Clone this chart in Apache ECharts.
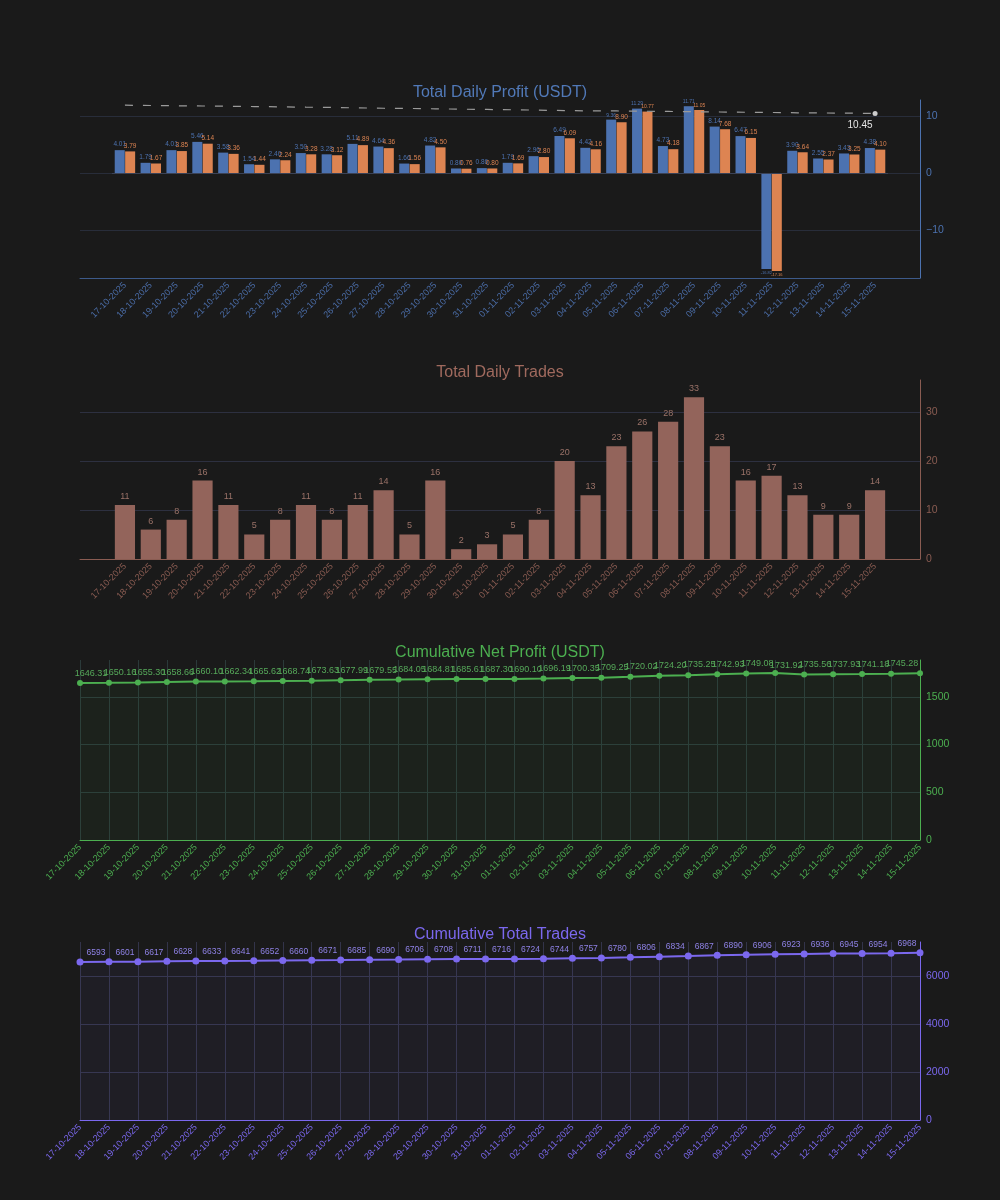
<!DOCTYPE html>
<html><head><meta charset="utf-8">
<script src="https://cdn.jsdelivr.net/npm/echarts@6/dist/echarts.min.js"></script>
<style>html,body{margin:0;padding:0;background:#1a1a1a}#c{width:1000px;height:1200px}</style>
</head><body><div id="c"></div>
<script>
const dates = ['17-10-2025','18-10-2025','19-10-2025','20-10-2025','21-10-2025','22-10-2025','23-10-2025','24-10-2025','25-10-2025','26-10-2025','27-10-2025','28-10-2025','29-10-2025','30-10-2025','31-10-2025','01-11-2025','02-11-2025','03-11-2025','04-11-2025','05-11-2025','06-11-2025','07-11-2025','08-11-2025','09-11-2025','10-11-2025','11-11-2025','12-11-2025','13-11-2025','14-11-2025','15-11-2025'];
const grossProfit = [4.01,1.79,4.01,5.46,3.58,1.54,2.40,3.50,3.28,5.11,4.64,1.66,4.82,0.80,0.86,1.79,2.96,6.49,4.42,9.36,11.29,4.73,11.71,8.14,6.47,-16.82,3.90,2.55,3.43,4.38];
const netProfit = [3.79,1.67,3.85,5.14,3.36,1.44,2.24,3.28,3.12,4.89,4.36,1.56,4.50,0.76,0.80,1.69,2.80,6.09,4.16,8.90,10.77,4.18,11.05,7.68,6.15,-17.16,3.64,2.37,3.25,4.10];
const trendLine = [11.89,11.84,11.79,11.75,11.70,11.65,11.60,11.54,11.49,11.42,11.35,11.32,11.26,11.19,11.14,11.09,11.02,10.95,10.89,10.88,10.84,10.79,10.74,10.70,10.65,10.61,10.56,10.53,10.49,10.45];
const dailyTrades = [11,6,8,16,11,5,8,11,8,11,14,5,16,2,3,5,8,20,13,23,26,28,33,23,16,17,13,9,9,14];
const cumProfit = [1644.64,1646.31,1650.16,1655.30,1658.66,1660.10,1662.34,1665.62,1668.74,1673.63,1677.99,1679.55,1684.05,1684.81,1685.61,1687.30,1690.10,1696.19,1700.35,1709.25,1720.02,1724.20,1735.25,1742.93,1749.08,1731.92,1735.56,1737.93,1741.18,1745.28];
const cumTrades = [6587,6593,6601,6617,6628,6633,6641,6652,6660,6671,6685,6690,6706,6708,6711,6716,6724,6744,6757,6780,6806,6834,6867,6890,6906,6923,6936,6945,6954,6968];
const titles = ['Total Daily Profit (USDT)','Total Daily Trades','Cumulative Net Profit (USDT)','Cumulative Total Trades'];

const FONT = "'Liberation Sans', Arial, sans-serif";
const BLUE = '#4c72b0', ORANGE = '#dd8452', BROWN = '#93645b', GREEN = '#4caf50', PURPLE = '#7b68ee';
const minus = v => String(v).replace('-', '\u2212');

function barData(values, color) {
  return values.map(v => ({
    value: v,
    label: { position: v < 0 ? 'bottom' : 'top', fontSize: v < 0 ? 4 : (v > 9 ? 5 : 6.5), color: color }
  }));
}
function hideFirstLabel(values) {
  return values.map((v, i) => i === 0 ? { value: v, label: { show: false } } : v);
}
const trendData = trendLine.map((v, i) => i === trendLine.length - 1
  ? { value: v, symbol: 'circle', symbolSize: 5, itemStyle: { color: '#cccccc' },
      label: { show: true, position: 'bottom', offset: [-15, -1], color: '#e6e6e6', fontSize: 10, fontFamily: FONT, formatter: p => p.value.toFixed(2) } }
  : { value: v });

const tops = [100, 380, 660, 942];
const H = 178;

function frameX(grid, color) {
  return { gridIndex: grid, type: 'value', min: 0, max: 1, show: true,
    axisLine: { show: true, onZero: false, lineStyle: { color: color, width: 1 } },
    axisTick: { show: false }, axisLabel: { show: false }, splitLine: { show: false } };
}
function catX(grid, color, gap) {
  return { gridIndex: grid, type: 'category', data: dates, boundaryGap: gap,
    axisLine: { show: !gap, onZero: false, lineStyle: { color: color } },
    axisTick: { show: false },
    axisLabel: { interval: 0, rotate: 45, fontSize: 9, color: color, fontFamily: FONT, margin: 6 },
    splitLine: { show: !gap, lineStyle: { color: gap ? '#2d3040' : (color === GREEN ? '#2b3a3a' : '#33344a'), width: 1 } } };
}
function valY(grid, color, min, max, split, gridColor, show) {
  return { gridIndex: grid, type: 'value', position: 'right', min: min, max: max, splitNumber: split, show: show,
    axisLine: { show: true, onZero: false, lineStyle: { color: color } },
    axisTick: { show: false },
    axisLabel: { color: color, fontSize: 10.5, fontFamily: FONT, margin: 6, showMinLabel: min === 0, showMaxLabel: false, formatter: minus },
    splitLine: { show: true, showMaxLine: false, showMinLine: min === 0, lineStyle: { color: gridColor, width: 1 } } };
}

const option = {
  backgroundColor: '#1a1a1a',
  animation: false,
  textStyle: { fontFamily: FONT },
  title: titles.map((t, i) => ({ text: t, left: 'center', top: tops[i] - 20,
    textStyle: { fontSize: 16, fontWeight: 'normal', fontFamily: FONT, color: [ '#5179b8', '#a06a5e', GREEN, PURPLE ][i] } })),
  grid: [
    { left: 80, right: 80, top: tops[0], height: H },
    { left: 112, right: 112, top: tops[0], height: H },
    { left: 80, right: 80, top: tops[1], height: H + 1 },
    { left: 112, right: 112, top: tops[1], height: H + 1 },
    { left: 80, right: 80, top: tops[2], height: H + 2 },
    { left: 80, right: 80, top: tops[3], height: H }
  ],
  xAxis: [
    frameX(0, '#3d5a8a'),
    catX(1, '#4a6ca6', true),
    frameX(2, '#8a5c52'),
    catX(3, '#8a5c52', true),
    catX(4, GREEN, false),
    catX(5, PURPLE, false)
  ],
  yAxis: [
    valY(0, '#4c72b0', -18.4, 12.8, 3, '#282d3a', true),
    valY(1, '#4c72b0', -18.4, 12.8, 3, '#282d3a', false),
    valY(2, '#8a5c52', 0, 36.5, 4, '#2d3040', true),
    valY(3, '#8a5c52', 0, 36.5, 4, '#2d3040', false),
    valY(4, GREEN, 0, 1885, 4, '#2b3a3a', true),
    valY(5, PURPLE, 0, 7420, 4, '#33344a', true)
  ],
  series: [
    { type: 'bar', name: 'Gross', xAxisIndex: 1, yAxisIndex: 1, data: barData(grossProfit, BLUE),
      itemStyle: { color: BLUE }, barCategoryGap: '21%', barGap: '4%',
      label: { show: true, distance: 2, fontFamily: FONT, formatter: p => p.value.toFixed(2) },
      markLine: { silent: true, symbol: 'none', label: { show: false }, lineStyle: { color: '#3a4256', type: 'solid', width: 1 }, data: [{ yAxis: 0 }] } },
    { type: 'bar', name: 'Net', xAxisIndex: 1, yAxisIndex: 1, data: barData(netProfit, ORANGE),
      itemStyle: { color: ORANGE }, barCategoryGap: '21%', barGap: '4%',
      label: { show: true, distance: 2, fontFamily: FONT, formatter: p => p.value.toFixed(2) } },
    { type: 'line', name: 'Trend', xAxisIndex: 1, yAxisIndex: 1, data: trendData, symbol: 'none', showSymbol: true,
      lineStyle: { color: '#9a9a9a', width: 1.2, type: [8, 10] }, z: 5 },
    { type: 'bar', name: 'Trades', xAxisIndex: 3, yAxisIndex: 3, data: dailyTrades,
      itemStyle: { color: BROWN }, barCategoryGap: '22%',
      label: { show: true, position: 'top', distance: 4, fontSize: 9, color: '#9a7268', fontFamily: FONT } },
    { type: 'line', name: 'CumProfit', xAxisIndex: 4, yAxisIndex: 4, data: hideFirstLabel(cumProfit),
      symbol: 'circle', symbolSize: 6, itemStyle: { color: GREEN }, lineStyle: { color: GREEN, width: 2 },
      areaStyle: { color: 'rgba(76,175,80,0.08)' },
      label: { show: true, position: 'top', offset: [-18, 0], distance: 2, fontSize: 9, color: '#56a95a', fontFamily: FONT,
        formatter: p => Number(p.value).toFixed(2) } },
    { type: 'line', name: 'CumTrades', xAxisIndex: 5, yAxisIndex: 5, data: hideFirstLabel(cumTrades),
      symbol: 'circle', symbolSize: 7, itemStyle: { color: PURPLE }, lineStyle: { color: PURPLE, width: 2 },
      areaStyle: { color: 'rgba(123,104,238,0.08)' },
      label: { show: true, position: 'top', offset: [-13, 0], distance: 1, fontSize: 8.5, color: '#8f82e6', fontFamily: FONT } }
  ]
};
const chart = echarts.init(document.getElementById('c'), null, { renderer: 'canvas' });
chart.setOption(option);
</script>
</body></html>
